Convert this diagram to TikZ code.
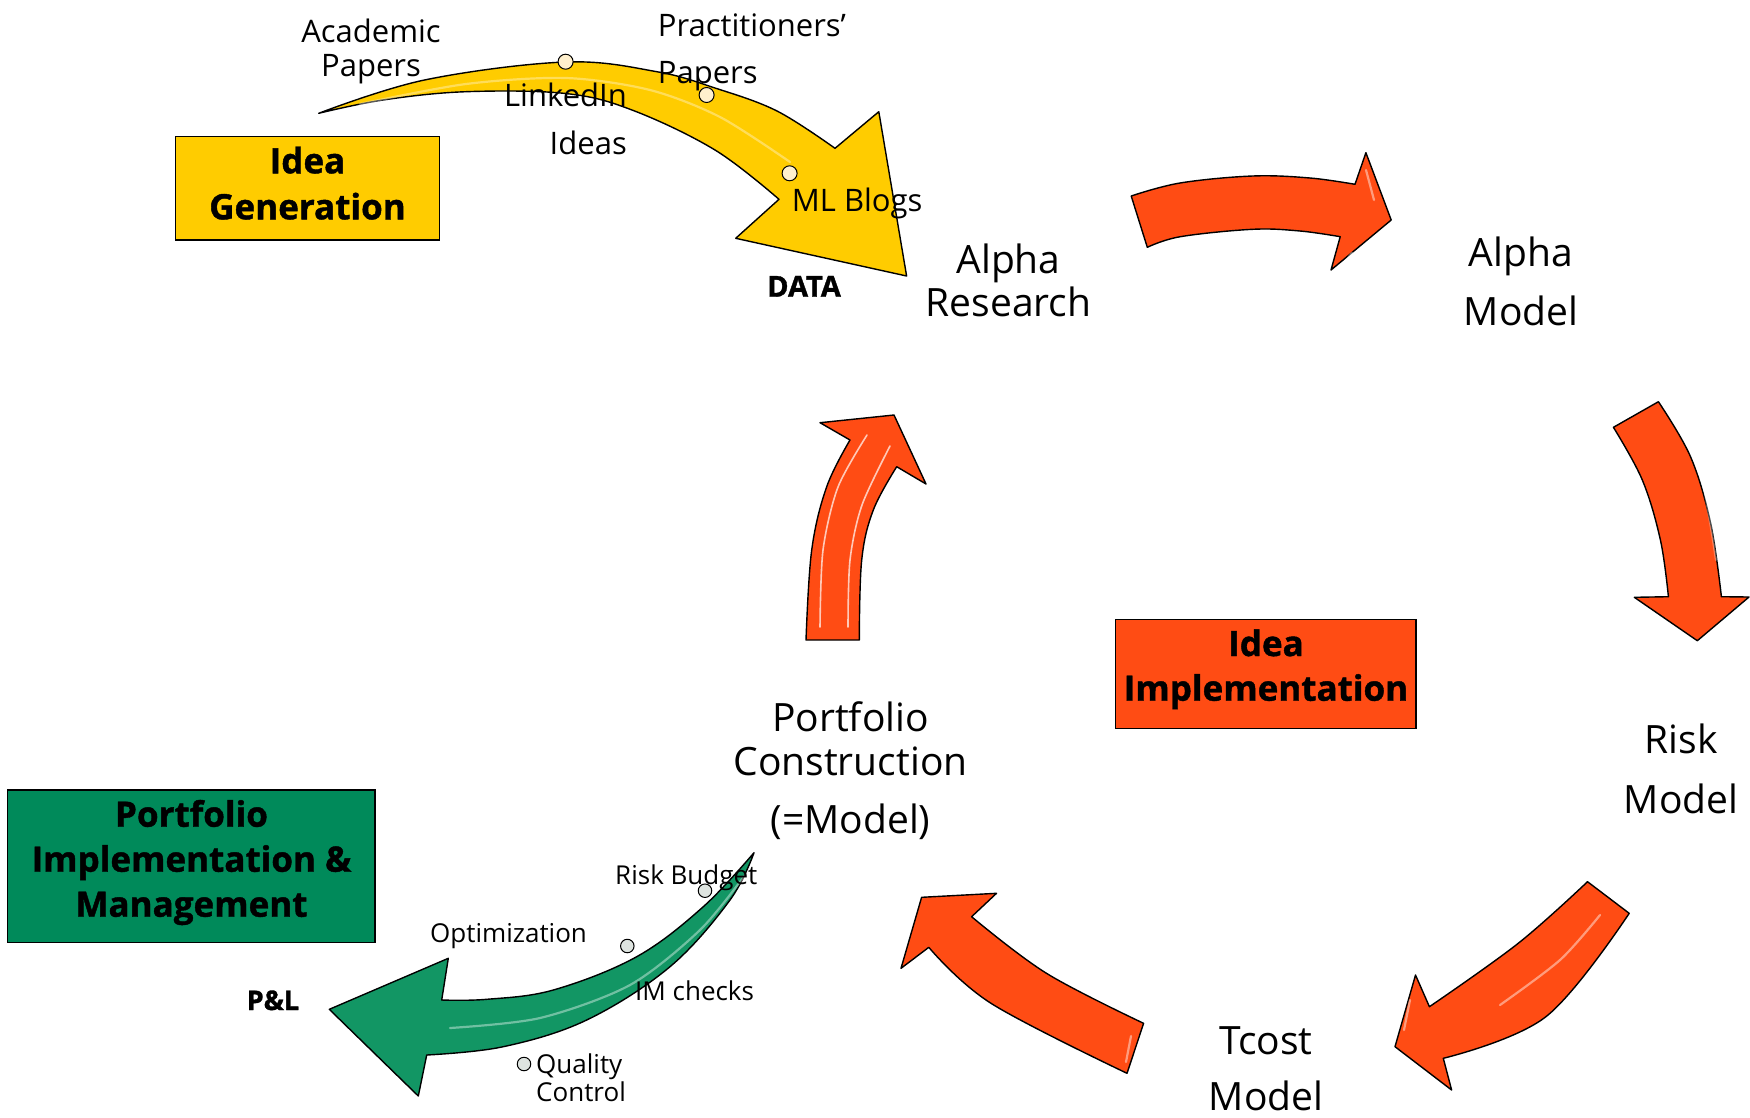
\documentclass[tikz,border=0pt]{standalone}
\usepackage{fontspec}
\setmainfont{Open Sans}[BoldFeatures={FakeBold=1.2}]
\definecolor{ideaYellow}{RGB}{255,204,0}
\definecolor{implRed}{RGB}{255,76,20}
\definecolor{pmGreen}{RGB}{0,138,90}
\definecolor{arrowGreen}{RGB}{18,150,100}
\definecolor{dotCream}{RGB}{255,240,205}
\definecolor{dotGrey}{RGB}{222,228,224}
\begin{document}
\begin{tikzpicture}[x=1pt,y=-1pt,
  bigarrow/.style={draw=black, line width=1.4pt, line join=round},
  redarrow/.style={bigarrow, fill=implRed},
  gloss/.style={draw=white, opacity=0.45, line width=2.2pt, line cap=round},
  stagebox/.style={draw=black, line width=1.3pt},
  lbl/.style={inner sep=0pt, font=\fontsize{39}{40}\selectfont},
  srclbl/.style={inner sep=0pt, font=\fontsize{31}{32}\selectfont},
  pmlbl/.style={inner sep=0pt, font=\fontsize{26}{27}\selectfont},
  boxlbl/.style={inner sep=0pt, font=\fontsize{35}{36}\selectfont\bfseries},
  taglbl/.style={inner sep=0pt, font=\fontsize{29}{30}\selectfont\bfseries},
  dot/.style={circle, draw=black, line width=1pt, inner sep=0pt, minimum size=#1}
]
\useasboundingbox (0,0) rectangle (1750,1117);

% ---------- yellow arrow: idea sources feeding alpha research ----------
\path[bigarrow, fill=ideaYellow]
  plot[smooth, tension=0.6] coordinates {(318.7,113.3) (424.5,80) (565.6,62) (656.8,71.7) (715,88) (777,111) (835,148.3)}
  -- (878.8,111.7) -- (906.6,276) -- (735.7,238.3) -- (779,199.3)
  -- plot[smooth, tension=0.6] coordinates {(779,199.3) (715,150) (632,110) (565.6,93.5) (466,91.7) (383,100) (318.7,113.3)}
  -- cycle;
\draw[gloss, opacity=0.35] plot[smooth] coordinates {(360,104) (466,84) (566,78) (650,90) (720,117) (790,162)};

% ---------- red cycle arrows ----------
\path[redarrow]
  plot[smooth, tension=0.6] coordinates {(1131.2,196) (1180,183) (1252.6,176) (1310,178) (1355,184.3)}
  -- (1365.9,152.7) -- (1391.2,220) -- (1331,270) -- (1340.2,236.7)
  -- plot[smooth, tension=0.6] coordinates {(1340.2,236.7) (1300,231) (1252.6,229.3) (1180.3,236.7) (1147.3,247.3)}
  -- cycle;
\draw[gloss] (1366,170) -- (1374,200);
\draw[gloss] (1352,253) -- (1345,262);

\path[redarrow]
  plot[smooth, tension=0.6] coordinates {(1658.4,401.7) (1690.5,456.7) (1710.6,523.3) (1721.4,596.7)}
  -- (1749,597) -- (1697.3,640.7) -- (1634.3,597.3) -- (1668.4,596.7)
  -- plot[smooth, tension=0.6] coordinates {(1668.4,596.7) (1660.4,540) (1642.3,480) (1613.4,427.3)}
  -- cycle;
\draw[gloss, opacity=0.3] plot[smooth] coordinates {(1680,420) (1702,480) (1716,560)};

\path[redarrow]
  plot[smooth, tension=0.6] coordinates {(1587.5,881.7) (1518.2,943.3) (1429.4,1006.7)}
  -- (1415.5,975) -- (1395,1046.7) -- (1451.6,1090) -- (1443.3,1058.3)
  -- plot[smooth, tension=0.6] coordinates {(1443.3,1058.3) (1545.9,1016.7) (1629.2,913.3)}
  -- cycle;
\draw[gloss] plot[smooth] coordinates {(1600,915) (1560,960) (1500,1005)};
\draw[gloss] (1410,1000) -- (1404,1030);

\path[redarrow]
  plot[smooth, tension=0.6] coordinates {(1143.6,1023.3) (1046.5,973.3) (971.6,916.7)}
  -- (996.5,893.3) -- (921.6,897.3) -- (901,968.3) -- (928.8,947.3)
  -- plot[smooth, tension=0.6] coordinates {(928.8,947.3) (991,1003.3) (1127,1073.3)}
  -- cycle;
\draw[gloss] (1131,1036) -- (1126,1062);
\draw[gloss] (909,912) -- (904,950);

\path[redarrow]
  plot[smooth, tension=0.6] coordinates {(859.3,640) (861.7,560) (873.3,510) (896.7,466.7)}
  -- (926,484) -- (894,415) -- (820,422.7) -- (850,440)
  -- plot[smooth, tension=0.6] coordinates {(850,440) (826.7,486.7) (811.7,550) (806,640)}
  -- cycle;
\draw[gloss, opacity=0.7, line width=1.6pt] plot[smooth] coordinates {(820,627) (823,550) (838,487) (867,435)};
\draw[gloss, opacity=0.7, line width=1.6pt] plot[smooth] coordinates {(848,627) (850,560) (862,505) (890,446)};

% ---------- green arrow: portfolio construction to P&L ----------
\path[bigarrow, fill=arrowGreen]
  (754,852.7)
  -- plot[smooth, tension=0.6] coordinates {(754,852.7) (703.3,906.7) (636.7,956.7) (553.3,990) (486.7,999.3) (441.7,1000)}
  -- (448.3,958.3) -- (329.3,1009.3) -- (418.3,1096) -- (426.7,1055)
  -- plot[smooth, tension=0.6] coordinates {(426.7,1055) (503.3,1046.7) (586.7,1020) (670,966.7) (730,900) (754,852.7)}
  -- cycle;
\draw[gloss, opacity=0.4] plot[smooth] coordinates {(745,875) (700,930) (630,985) (540,1018) (450,1028)};

% ---------- source dots ----------
\node[dot=15pt, fill=dotCream] (dAcad) at (565.6,61.7) {};
\node[dot=15pt, fill=dotCream] (dPrac) at (706.6,95) {};
\node[dot=15pt, fill=dotCream] (dBlog) at (789.6,173.3) {};
\node[dot=13.5pt, fill=dotGrey] (dRisk) at (705,890.7) {};
\node[dot=13.5pt, fill=dotGrey] (dOpt) at (627.3,946) {};
\node[dot=13.5pt, fill=dotGrey] (dQual) at (524,1064) {};

% ---------- stage boxes ----------
\path[stagebox, fill=ideaYellow] (175.7,136.7) rectangle (439.3,240);
\node[boxlbl, anchor=base] (ig1) at (307.5,173.3) {Idea};
\node[boxlbl, anchor=base] (ig2) at (307.5,219.3) {Generation};

\path[stagebox, fill=implRed] (1115.7,619.3) rectangle (1416,728.3);
\node[boxlbl, anchor=base] (ii1) at (1266,656) {Idea};
\node[boxlbl, anchor=base] (ii2) at (1266,700.7) {Implementation};

\path[stagebox, fill=pmGreen] (7.3,790) rectangle (375,942.7);
\node[boxlbl, anchor=base] (pm1) at (191.5,826.7) {Portfolio};
\node[boxlbl, anchor=base] (pm2) at (191.5,871.7) {Implementation \&};
\node[boxlbl, anchor=base] (pm3) at (191.5,916.7) {Management};

% ---------- idea sources ----------
\node[srclbl, anchor=base] (ac1) at (371,42.7) {Academic};
\node[srclbl, anchor=base] (ac2) at (371,76.7) {Papers};
\node[srclbl, anchor=base west] (pr1) at (657.7,36.7) {Practitioners’};
\node[srclbl, anchor=base west] (pr2) at (657.7,83.3) {Papers};
\node[srclbl, anchor=base east] (li1) at (627,106.7) {LinkedIn};
\node[srclbl, anchor=base east] (li2) at (627,154) {Ideas};
\node[srclbl, anchor=base west] (ml) at (791.7,211.7) {ML Blogs};
\node[taglbl, anchor=base] (data) at (804,296.7) {DATA};

% ---------- cycle stages ----------
\node[lbl, anchor=base] (ar1) at (1008.5,273.3) {Alpha};
\node[lbl, anchor=base] (ar2) at (1008.5,316.7) {Research};
\node[lbl, anchor=base] (am1) at (1521,266) {Alpha};
\node[lbl, anchor=base] (am2) at (1521,325) {Model};
\node[lbl, anchor=base] (rm1) at (1681,753.3) {Risk};
\node[lbl, anchor=base] (rm2) at (1681,813.3) {Model};
\node[lbl, anchor=base] (tm1) at (1266,1054) {Tcost};
\node[lbl, anchor=base] (tm2) at (1266,1110) {Model};
\node[lbl, anchor=base] (pc1) at (850.5,731.7) {Portfolio};
\node[lbl, anchor=base] (pc2) at (850.5,775) {Construction};
\node[lbl, anchor=base] (pc3) at (850.5,833) {(=Model)};

% ---------- implementation steps ----------
\node[pmlbl, anchor=base west] (rb) at (615,884) {Risk Budget};
\node[pmlbl, anchor=base west] (opt) at (430,942.7) {Optimization};
\node[pmlbl, anchor=base west] (imc) at (635,1000) {IM checks};
\node[pmlbl, anchor=base west] (qc1) at (536,1073.3) {Quality};
\node[pmlbl, anchor=base west] (qc2) at (536,1101.7) {Control};
\node[taglbl, font=\fontsize{27}{28}\selectfont\bfseries, anchor=base] (pnl) at (273,1010) {P\&L};
\end{tikzpicture}
\end{document}
